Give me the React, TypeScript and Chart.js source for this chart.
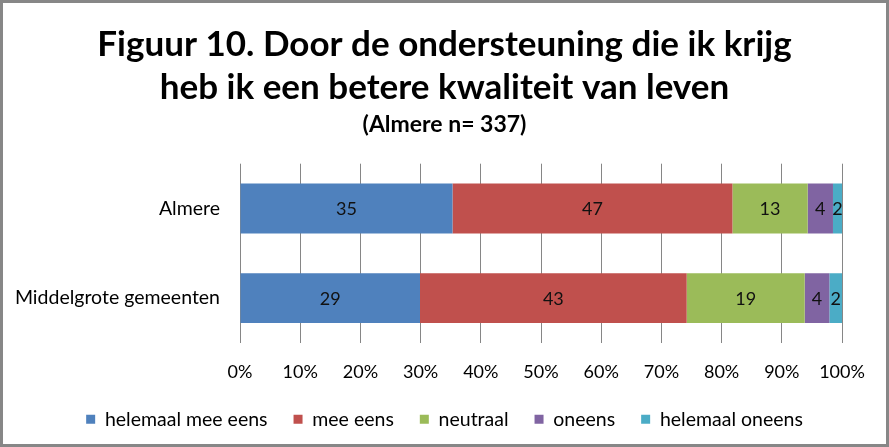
import React, { useEffect, useRef } from "react";
import { Chart, registerables } from "chart.js";

Chart.register(...registerables);

const categories = ["Almere", "Middelgrote gemeenten"];
const seriesNames = ["helemaal mee eens", "mee eens", "neutraal", "oneens", "helemaal oneens"];
const seriesColors = ["#4F81BD", "#C0504D", "#9BBB59", "#8064A2", "#4BACC6"];

// shares (percent of the bar) per series: [Almere, Middelgrote gemeenten]
const helemaalMeeEens = [35.3, 29.9];
const meeEens = [46.5, 44.3];
const neutraal = [12.5, 19.6];
const oneens = [4.2, 4.1];
const helemaalOneens = [1.5, 2.1];

// data labels as printed in the bars
const helemaalMeeEensLabels = ["35", "29"];
const meeEensLabels = ["47", "43"];
const neutraalLabels = ["13", "19"];
const oneensLabels = ["4", "4"];
const helemaalOneensLabels = ["2", "2"];

const xTicks = [0, 10, 20, 30, 40, 50, 60, 70, 80, 90, 100];

const titleLines = ["Figuur 10. Door de ondersteuning die ik krijg", "heb ik een betere kwaliteit van leven"];
const subtitleText = "(Almere n= 337)";

const FONT = "Lato, 'Open Sans', sans-serif";
const TICK_SIZE = 18;
const TICK_PAD = 18;

export default function App() {
  const ref = useRef<HTMLCanvasElement | null>(null);

  useEffect(() => {
    const canvas = ref.current;
    if (!canvas) return;
    const values = [helemaalMeeEens, meeEens, neutraal, oneens, helemaalOneens];
    const labels = [helemaalMeeEensLabels, meeEensLabels, neutraalLabels, oneensLabels, helemaalOneensLabels];

    const bgPlugin = {
      id: "bgBorder",
      beforeDraw(chart: any) {
        const c = chart.ctx;
        c.save();
        c.fillStyle = "#ffffff";
        c.fillRect(0, 0, chart.width, chart.height);
        c.restore();
      },
      afterDraw(chart: any) {
        const c = chart.ctx;
        c.save();
        c.strokeStyle = "#878787";
        c.lineWidth = 3;
        c.strokeRect(1.5, 1.5, chart.width - 3, chart.height - 3);
        c.restore();
      },
    };

    const dataLabelPlugin = {
      id: "segLabels",
      afterDatasetsDraw(chart: any) {
        const c = chart.ctx;
        c.save();
        c.font = `18px ${FONT}`;
        c.fillStyle = "#111111";
        c.textAlign = "center";
        c.textBaseline = "middle";
        chart.data.datasets.forEach((ds: any, di: number) => {
          const meta = chart.getDatasetMeta(di);
          meta.data.forEach((el: any, i: number) => {
            const cx = (el.x + el.base) / 2;
            c.fillText(labels[di][i], cx, el.y + 1);
          });
        });
        c.restore();
      },
    };

    const chart = new Chart(canvas, {
      type: "bar",
      data: {
        labels: categories,
        datasets: seriesNames.map((name, i) => ({
          label: name,
          data: values[i],
          backgroundColor: seriesColors[i],
          borderWidth: 0,
          categoryPercentage: 1,
          barPercentage: 0.556,
          yAxisID: "y",
        })),
      },
      options: {
        indexAxis: "y",
        responsive: false,
        animation: false,
        devicePixelRatio: 1,
        layout: { padding: { left: 0, right: 0, top: 0, bottom: 8 } },
        plugins: {
          title: {
            display: true,
            text: titleLines,
            color: "#000000",
            font: { family: FONT, size: 35, weight: "bold", lineHeight: 1.23 },
            padding: { top: 23, bottom: 0 },
          },
          subtitle: {
            display: true,
            text: subtitleText,
            color: "#000000",
            font: { family: FONT, size: 23, weight: "bold", lineHeight: 1.2 },
            padding: { top: 2, bottom: 25 },
          },
          legend: {
            position: "bottom",
            labels: {
              color: "#000000",
              font: { family: FONT, size: 19.5 },
              boxWidth: 9,
              boxHeight: 9,
              padding: 26,
            },
          },
          tooltip: { enabled: false },
        },
        scales: {
          x: {
            stacked: true,
            min: 0,
            max: 100,
            afterBuildTicks(scale: any) {
              scale.ticks = xTicks.map((v) => ({ value: v }));
            },
            afterFit(scale: any) {
              scale.height = TICK_PAD + TICK_SIZE * 1.2 + 1;
            },
            ticks: {
              color: "#000000",
              font: { family: FONT, size: TICK_SIZE },
              padding: TICK_PAD,
              maxRotation: 0,
              callback: (v: any) => `${v}%`,
            },
            grid: { color: "#868686", lineWidth: 1, drawTicks: false },
            border: { display: false },
          },
          y: {
            stacked: true,
            afterFit(scale: any) {
              scale.width = 240;
            },
            ticks: {
              color: "#000000",
              font: { family: FONT, size: 19.5 },
              padding: 20,
            },
            grid: { display: false, drawTicks: false },
            border: { display: false },
          },
          yRight: {
            type: "category",
            position: "right",
            labels: categories,
            afterFit(scale: any) {
              scale.width = 47;
            },
            ticks: { display: false },
            grid: { display: false, drawTicks: false },
            border: { display: false },
          },
        },
      },
      plugins: [bgPlugin, dataLabelPlugin],
    } as any);

    return () => chart.destroy();
  }, []);

  return (
    <div style={{ position: "absolute", left: 0, top: 0, width: 889, height: 447 }}>
      <canvas ref={ref} width={889} height={447} style={{ display: "block", width: 889, height: 447 }} />
    </div>
  );
}
